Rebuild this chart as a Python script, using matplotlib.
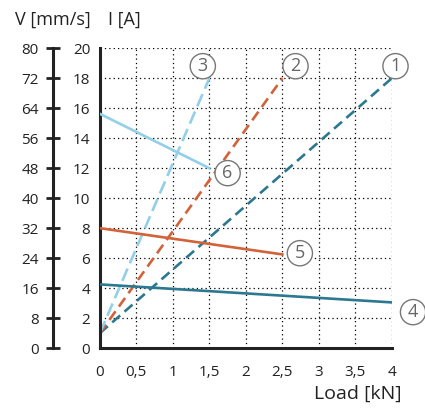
import matplotlib.pyplot as plt

plt.rcParams['font.family'] = ['Open Sans', 'DejaVu Sans']

# current curves (I axis), dashed
load_1 = [0, 4]
cur_1 = [1, 18]
load_2 = [0, 2.5]
cur_2 = [1, 18]
load_3 = [0, 1.5]
cur_3 = [1, 18]

# speed curves (V axis), solid
load_4 = [0, 4]
speed_4 = [17, 12.2]
load_5 = [0, 2.5]
speed_5 = [32, 25]
load_6 = [0, 1.5]
speed_6 = [62.5, 48]

x_ticks = [0, 0.5, 1, 1.5, 2, 2.5, 3, 3.5, 4]
x_labels = ['0', '0,5', '1', '1,5', '2', '2,5', '3', '3,5', '4']
i_ticks = list(range(0, 21, 2))
v_ticks = list(range(0, 81, 8))

teal = '#2b7890'
orange = '#d2623a'
lblue = '#92cfe8'

fig = plt.figure(figsize=(4.25, 4.12), dpi=100)
ax = fig.add_axes([0.235, 0.155, 0.687, 0.728])

ax.set_xlim(0, 4)
ax.set_ylim(0, 20)
ax.set_xticks(x_ticks)
ax.set_xticklabels(x_labels)
ax.set_yticks(i_ticks)
ax.tick_params(axis='both', length=0, labelsize=11, colors='#222222')
ax.tick_params(axis='x', pad=12)
ax.tick_params(axis='y', pad=7)
ax.grid(True, linestyle=(0, (1, 2.5)), color='black', linewidth=0.9)
for s in ['top', 'right']:
    ax.spines[s].set_visible(False)
for s in ['left', 'bottom']:
    ax.spines[s].set_linewidth(2.2)
    ax.spines[s].set_color('#222222')

dash = (0, (4, 2.2))
ax.plot(load_1, cur_1, color=teal, lw=1.9, linestyle=dash)
ax.plot(load_2, cur_2, color=orange, lw=1.9, linestyle=dash)
ax.plot(load_3, cur_3, color=lblue, lw=1.9, linestyle=(0, (5, 2.2)))

ax2 = ax.twinx()
ax2.set_ylim(0, 80)
ax2.set_yticks(v_ticks)
ax2.yaxis.set_ticks_position('left')
ax2.spines['left'].set_position(('outward', 34))
ax2.spines['left'].set_visible(True)
ax2.spines['left'].set_linewidth(2.2)
ax2.spines['left'].set_color('#222222')
for s in ['top', 'right', 'bottom']:
    ax2.spines[s].set_visible(False)
ax2.tick_params(axis='y', direction='inout', length=10, width=2,
                labelsize=11, colors='#222222', pad=5)

ax2.plot(load_4, speed_4, color=teal, lw=1.9)
ax2.plot(load_5, speed_5, color=orange, lw=1.9)
ax2.plot(load_6, speed_6, color=lblue, lw=1.9)

marks = [('1', 4.05, 18.8), ('2', 2.68, 18.8), ('3', 1.41, 18.8),
         ('4', 4.29, 2.4), ('5', 2.74, 6.33), ('6', 1.75, 11.67)]
for txt, mx, my in marks:
    ax.text(mx, my, txt, ha='center', va='center', fontsize=13, color='#666666',
            clip_on=False, zorder=5,
            bbox=dict(boxstyle='circle,pad=0.2', fc='white', ec='#777777', lw=1))

fig.text(0.035, 0.951, 'V [mm/s]', fontsize=13, color='#222222', va='center')
fig.text(0.254, 0.951, 'I [A]', fontsize=13, color='#222222', va='center')
fig.text(0.945, 0.045, 'Load [kN]', fontsize=14, color='#222222',
         va='center', ha='right')

fig.savefig('out.png', dpi=100)
